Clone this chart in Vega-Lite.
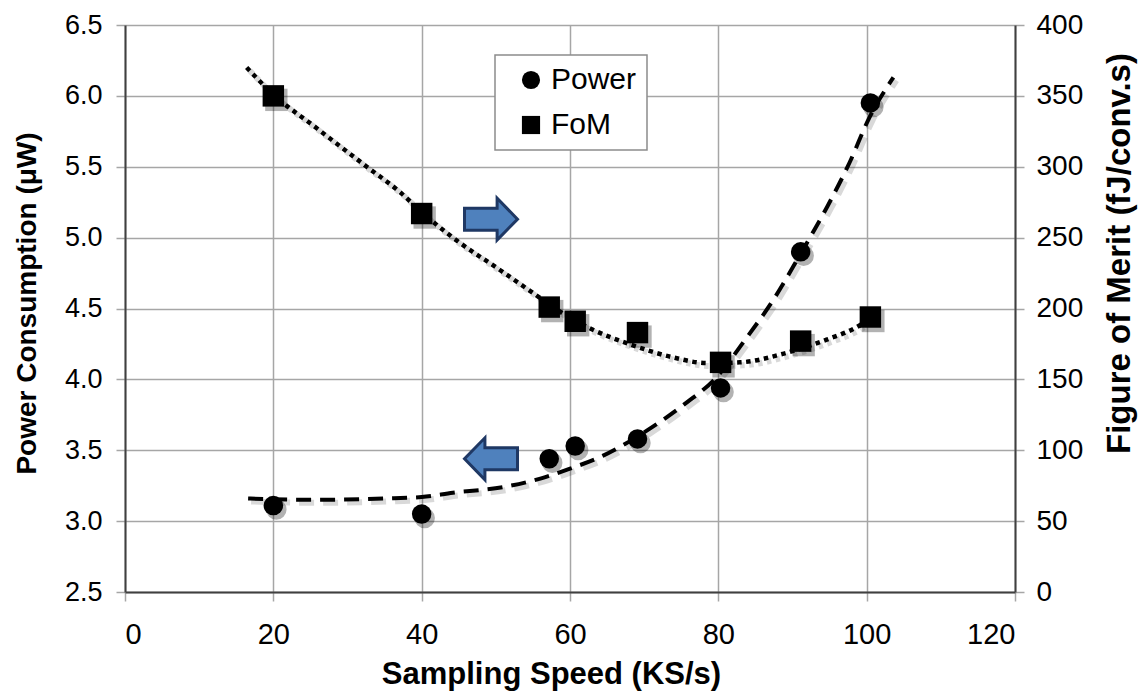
{
  "$schema": "https://vega.github.io/schema/vega-lite/v6.json",
  "width": 890,
  "height": 567,
  "autosize": "none",
  "padding": {"left": 125, "top": 25, "right": 125, "bottom": 102},
  "background": "white",
  "config": {
    "view": {"stroke": null},
    "font": "Liberation Sans",
    "axis": {
      "domainColor": "#404040",
      "domainWidth": 2,
      "gridColor": "#a6a6a6",
      "gridWidth": 1.5,
      "tickColor": "#a6a6a6",
      "tickWidth": 1.5,
      "tickSize": 9,
      "labelFont": "Liberation Sans",
      "labelColor": "black",
      "titleFont": "Liberation Sans",
      "titleFontWeight": "bold",
      "titleColor": "black"
    },
    "legend": {
      "orient": "none",
      "legendX": 370,
      "legendY": 30,
      "fillColor": "white",
      "strokeColor": "#8c8c8c",
      "strokeWidth": 1.5,
      "padding": 10,
      "labelFont": "Liberation Sans",
      "labelFontSize": 30,
      "labelColor": "black",
      "labelOffset": 5,
      "labelLimit": 400,
      "symbolSize": 330,
      "symbolFillColor": "black",
      "symbolStrokeColor": "black",
      "symbolStrokeWidth": 0,
      "symbolOffset": 11,
      "rowPadding": 15
    }
  },
  "datasets": {
    "powerCurve": [
      {"speed": 16.6, "power": 3.16},
      {"speed": 25, "power": 3.15},
      {"speed": 35, "power": 3.16},
      {"speed": 40, "power": 3.17},
      {"speed": 44.2, "power": 3.2},
      {"speed": 51, "power": 3.24},
      {"speed": 56, "power": 3.3},
      {"speed": 60, "power": 3.37},
      {"speed": 64.4, "power": 3.46},
      {"speed": 70.4, "power": 3.64},
      {"speed": 75.8, "power": 3.84},
      {"speed": 79.3, "power": 3.99},
      {"speed": 83.9, "power": 4.3},
      {"speed": 87.4, "power": 4.56},
      {"speed": 90.8, "power": 4.86},
      {"speed": 94.7, "power": 5.22},
      {"speed": 97.7, "power": 5.53},
      {"speed": 100.3, "power": 5.84},
      {"speed": 103.6, "power": 6.13}
    ],
    "fomCurve": [
      {"speed": 16.4, "fom": 370},
      {"speed": 20, "fom": 351},
      {"speed": 25.9, "fom": 327},
      {"speed": 32.6, "fom": 300},
      {"speed": 37.1, "fom": 282},
      {"speed": 40, "fom": 268},
      {"speed": 44.2, "fom": 250},
      {"speed": 50.6, "fom": 227},
      {"speed": 55, "fom": 211},
      {"speed": 58, "fom": 200},
      {"speed": 62.3, "fom": 187},
      {"speed": 68.5, "fom": 174},
      {"speed": 73.9, "fom": 165.5},
      {"speed": 78.5, "fom": 161.5},
      {"speed": 82.9, "fom": 162},
      {"speed": 88.7, "fom": 168},
      {"speed": 94.6, "fom": 178},
      {"speed": 98.7, "fom": 187},
      {"speed": 100.5, "fom": 193}
    ]
  },
  "data": {
    "values": [
      {"speed": 20, "power": 3.11, "fom": 350},
      {"speed": 40, "power": 3.05, "fom": 267},
      {"speed": 57.2, "power": 3.44, "fom": 201},
      {"speed": 60.7, "power": 3.53, "fom": 191},
      {"speed": 69.1, "power": 3.58, "fom": 183},
      {"speed": 80.3, "power": 3.94, "fom": 162},
      {"speed": 91.1, "power": 4.9, "fom": 177},
      {"speed": 100.5, "power": 5.95, "fom": 194}
    ]
  },
  "encoding": {
    "x": {
      "field": "speed",
      "type": "quantitative",
      "scale": {"domain": [0, 120], "nice": false, "zero": false},
      "axis": {
        "values": [0, 20, 40, 60, 80, 100, 120],
        "title": "Sampling Speed (KS/s)",
        "titleFontSize": 31,
        "titleX": 426,
        "labelFontSize": 29,
        "labelPadding": 19,
        "titlePadding": 10,
        "grid": true
      }
    }
  },
  "layer": [
    {
      "layer": [
        {
          "data": {"name": "powerCurve"},
          "mark": {"type": "line", "color": "black", "strokeWidth": 6, "opacity": 0.15, "interpolate": "monotone", "strokeDash": [15, 9], "xOffset": 3, "yOffset": 3},
          "encoding": {"y": {"field": "power", "type": "quantitative"}}
        },
        {
          "data": {"name": "powerCurve"},
          "mark": {"type": "line", "color": "black", "strokeWidth": 4, "interpolate": "monotone", "strokeDash": [15, 9]},
          "encoding": {
            "y": {
              "field": "power",
              "type": "quantitative",
              "scale": {"domain": [2.5, 6.5], "nice": false, "zero": false},
              "axis": {
                "orient": "left",
                "values": [2.5, 3, 3.5, 4, 4.5, 5, 5.5, 6, 6.5],
                "format": ".1f",
                "title": "Power Consumption (μW)",
                "titleY": 278,
                "labelFontSize": 27,
                "titleFontSize": 28,
                "labelPadding": 14,
                "titlePadding": 23,
                "grid": true
              }
            }
          }
        },
        {
          "mark": {"type": "point", "shape": "circle", "filled": true, "color": "black", "opacity": 0.3, "size": 420, "xOffset": 3, "yOffset": 4},
          "encoding": {"y": {"field": "power", "type": "quantitative"}}
        },
        {
          "mark": {"type": "point", "filled": true, "color": "black", "opacity": 1, "size": 380},
          "encoding": {
            "y": {"field": "power", "type": "quantitative"},
            "shape": {
              "datum": "Power",
              "type": "nominal",
              "scale": {"domain": ["Power", "FoM"], "range": ["circle", "square"]},
              "legend": {"title": null}
            }
          }
        },
        {
          "data": {"values": [{"speed": 49.35, "power": 5.13}]},
          "mark": {"type": "point", "shape": "M-1,-0.415L0.23,-0.415L0.23,-0.79L1,0L0.23,0.79L0.23,0.415L-1,0.415Z", "size": 2809, "filled": true, "fill": "#4f81bd", "stroke": "#1f3864", "strokeWidth": 3, "opacity": 1},
          "encoding": {"y": {"field": "power", "type": "quantitative"}}
        },
        {
          "data": {"values": [{"speed": 49.35, "power": 3.44}]},
          "mark": {"type": "point", "shape": "M1,-0.415L-0.23,-0.415L-0.23,-0.79L-1,0L-0.23,0.79L-0.23,0.415L1,0.415Z", "size": 2809, "filled": true, "fill": "#4f81bd", "stroke": "#1f3864", "strokeWidth": 3, "opacity": 1},
          "encoding": {"y": {"field": "power", "type": "quantitative"}}
        }
      ]
    },
    {
      "layer": [
        {
          "data": {"name": "fomCurve"},
          "mark": {"type": "line", "color": "black", "strokeWidth": 6, "opacity": 0.15, "interpolate": "monotone", "strokeDash": [4.5, 4.5], "xOffset": 3, "yOffset": 3},
          "encoding": {"y": {"field": "fom", "type": "quantitative"}}
        },
        {
          "data": {"name": "fomCurve"},
          "mark": {"type": "line", "color": "black", "strokeWidth": 4.5, "interpolate": "monotone", "strokeDash": [4.5, 4.5]},
          "encoding": {
            "y": {
              "field": "fom",
              "type": "quantitative",
              "scale": {"domain": [0, 400], "nice": false},
              "axis": {
                "orient": "right",
                "values": [0, 50, 100, 150, 200, 250, 300, 350, 400],
                "title": "Figure of Merit (fJ/conv.s)",
                "titleAngle": 270,
                "titleBaseline": "top",
                "titleY": 228,
                "labelFontSize": 28,
                "titleFontSize": 33,
                "labelPadding": 12,
                "titlePadding": 21,
                "grid": false
              }
            }
          }
        },
        {
          "mark": {"type": "point", "shape": "square", "filled": true, "color": "black", "opacity": 0.3, "size": 500, "xOffset": 3, "yOffset": 4},
          "encoding": {"y": {"field": "fom", "type": "quantitative"}}
        },
        {
          "mark": {"type": "point", "filled": true, "color": "black", "opacity": 1, "size": 460},
          "encoding": {
            "y": {"field": "fom", "type": "quantitative"},
            "shape": {"datum": "FoM", "type": "nominal"}
          }
        }
      ]
    }
  ],
  "resolve": {"scale": {"y": "independent"}}
}
